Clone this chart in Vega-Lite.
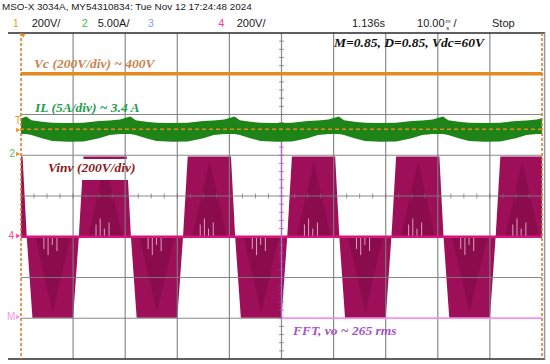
{
  "$schema": "https://vega.github.io/schema/vega-lite/v6.json",
  "width": 521,
  "height": 326,
  "autosize": {"type": "none"},
  "padding": {"left": 21, "top": 33, "right": 8, "bottom": 5},
  "background": "white",
  "config": {"view": {"stroke": null}},
  "datasets": {
    "pulses": [
      {"id": "pm1", "t": -8.9, "hi": -1, "lo": -1}, {"id": "pm1", "t": -8.0, "hi": 0.97, "lo": -1}, {"id": "pm1", "t": 0.3, "hi": 0.97, "lo": -1}, {"id": "pm1", "t": 1.1, "hi": -1, "lo": -1},
      {"id": "p0", "t": 11.1, "hi": -1, "lo": -1}, {"id": "p0", "t": 12.0, "hi": 0.97, "lo": -1}, {"id": "p0", "t": 20.3, "hi": 0.97, "lo": -1}, {"id": "p0", "t": 21.1, "hi": -1, "lo": -1},
      {"id": "p1", "t": 31.1, "hi": -1, "lo": -1}, {"id": "p1", "t": 32.0, "hi": 0.97, "lo": -1}, {"id": "p1", "t": 40.3, "hi": 0.97, "lo": -1}, {"id": "p1", "t": 41.1, "hi": -1, "lo": -1},
      {"id": "p2", "t": 51.1, "hi": -1, "lo": -1}, {"id": "p2", "t": 52.0, "hi": 0.97, "lo": -1}, {"id": "p2", "t": 60.3, "hi": 0.97, "lo": -1}, {"id": "p2", "t": 61.1, "hi": -1, "lo": -1},
      {"id": "p3", "t": 71.1, "hi": -1, "lo": -1}, {"id": "p3", "t": 72.0, "hi": 0.97, "lo": -1}, {"id": "p3", "t": 80.3, "hi": 0.97, "lo": -1}, {"id": "p3", "t": 81.1, "hi": -1, "lo": -1},
      {"id": "p4", "t": 91.1, "hi": -1, "lo": -1}, {"id": "p4", "t": 92.0, "hi": 0.97, "lo": -1}, {"id": "p4", "t": 100.3, "hi": 0.97, "lo": -1}, {"id": "p4", "t": 101.1, "hi": -1, "lo": -1},
      {"id": "n0", "t": 1.1, "hi": -1, "lo": -1}, {"id": "n0", "t": 2.2, "hi": -1, "lo": -2.99}, {"id": "n0", "t": 10.0, "hi": -1, "lo": -2.99}, {"id": "n0", "t": 11.1, "hi": -1, "lo": -1},
      {"id": "n1", "t": 21.1, "hi": -1, "lo": -1}, {"id": "n1", "t": 22.2, "hi": -1, "lo": -2.99}, {"id": "n1", "t": 30.0, "hi": -1, "lo": -2.99}, {"id": "n1", "t": 31.1, "hi": -1, "lo": -1},
      {"id": "n2", "t": 41.1, "hi": -1, "lo": -1}, {"id": "n2", "t": 42.2, "hi": -1, "lo": -2.99}, {"id": "n2", "t": 50.0, "hi": -1, "lo": -2.99}, {"id": "n2", "t": 51.1, "hi": -1, "lo": -1},
      {"id": "n3", "t": 61.1, "hi": -1, "lo": -1}, {"id": "n3", "t": 62.2, "hi": -1, "lo": -2.99}, {"id": "n3", "t": 70.0, "hi": -1, "lo": -2.99}, {"id": "n3", "t": 71.1, "hi": -1, "lo": -1},
      {"id": "n4", "t": 81.1, "hi": -1, "lo": -1}, {"id": "n4", "t": 82.2, "hi": -1, "lo": -2.99}, {"id": "n4", "t": 90.0, "hi": -1, "lo": -2.99}, {"id": "n4", "t": 91.1, "hi": -1, "lo": -1}
    ],
    "shade": [
      {"id": "p0", "t": 12.9, "hi": -1, "lo": -1}, {"id": "p0", "t": 16.2, "hi": 0.85, "lo": -1}, {"id": "p0", "t": 19.5, "hi": -1, "lo": -1},
      {"id": "p1", "t": 32.9, "hi": -1, "lo": -1}, {"id": "p1", "t": 36.2, "hi": 0.85, "lo": -1}, {"id": "p1", "t": 39.5, "hi": -1, "lo": -1},
      {"id": "p2", "t": 52.9, "hi": -1, "lo": -1}, {"id": "p2", "t": 56.2, "hi": 0.85, "lo": -1}, {"id": "p2", "t": 59.5, "hi": -1, "lo": -1},
      {"id": "p3", "t": 72.9, "hi": -1, "lo": -1}, {"id": "p3", "t": 76.2, "hi": 0.85, "lo": -1}, {"id": "p3", "t": 79.5, "hi": -1, "lo": -1},
      {"id": "p4", "t": 92.9, "hi": -1, "lo": -1}, {"id": "p4", "t": 96.2, "hi": 0.85, "lo": -1}, {"id": "p4", "t": 99.5, "hi": -1, "lo": -1},
      {"id": "n0", "t": 2.7, "hi": -1, "lo": -1}, {"id": "n0", "t": 6.1, "hi": -1, "lo": -2.85}, {"id": "n0", "t": 9.5, "hi": -1, "lo": -1},
      {"id": "n1", "t": 22.7, "hi": -1, "lo": -1}, {"id": "n1", "t": 26.1, "hi": -1, "lo": -2.85}, {"id": "n1", "t": 29.5, "hi": -1, "lo": -1},
      {"id": "n2", "t": 42.7, "hi": -1, "lo": -1}, {"id": "n2", "t": 46.1, "hi": -1, "lo": -2.85}, {"id": "n2", "t": 49.5, "hi": -1, "lo": -1},
      {"id": "n3", "t": 62.7, "hi": -1, "lo": -1}, {"id": "n3", "t": 66.1, "hi": -1, "lo": -2.85}, {"id": "n3", "t": 69.5, "hi": -1, "lo": -1},
      {"id": "n4", "t": 82.7, "hi": -1, "lo": -1}, {"id": "n4", "t": 86.1, "hi": -1, "lo": -2.85}, {"id": "n4", "t": 89.5, "hi": -1, "lo": -1}
    ],
    "spikes": [
      {"t": 14.4, "a": -1, "b": -0.7}, {"t": 15.2, "a": -1, "b": -0.55}, {"t": 16.0, "a": -1, "b": -0.8}, {"t": 16.9, "a": -1, "b": -0.65},
      {"t": 34.4, "a": -1, "b": -0.7}, {"t": 35.2, "a": -1, "b": -0.55}, {"t": 36.0, "a": -1, "b": -0.8}, {"t": 36.9, "a": -1, "b": -0.65},
      {"t": 54.4, "a": -1, "b": -0.7}, {"t": 55.2, "a": -1, "b": -0.55}, {"t": 56.0, "a": -1, "b": -0.8}, {"t": 56.9, "a": -1, "b": -0.65},
      {"t": 74.4, "a": -1, "b": -0.7}, {"t": 75.2, "a": -1, "b": -0.55}, {"t": 76.0, "a": -1, "b": -0.8}, {"t": 76.9, "a": -1, "b": -0.65},
      {"t": 94.4, "a": -1, "b": -0.7}, {"t": 95.2, "a": -1, "b": -0.55}, {"t": 96.0, "a": -1, "b": -0.8}, {"t": 96.9, "a": -1, "b": -0.65},
      {"t": 4.4, "a": -1, "b": -1.3}, {"t": 5.2, "a": -1, "b": -1.45}, {"t": 6.0, "a": -1, "b": -1.2}, {"t": 6.9, "a": -1, "b": -1.35},
      {"t": 24.4, "a": -1, "b": -1.3}, {"t": 25.2, "a": -1, "b": -1.45}, {"t": 26.0, "a": -1, "b": -1.2}, {"t": 26.9, "a": -1, "b": -1.35},
      {"t": 44.4, "a": -1, "b": -1.3}, {"t": 45.2, "a": -1, "b": -1.45}, {"t": 46.0, "a": -1, "b": -1.2}, {"t": 46.9, "a": -1, "b": -1.35},
      {"t": 64.4, "a": -1, "b": -1.3}, {"t": 65.2, "a": -1, "b": -1.45}, {"t": 66.0, "a": -1, "b": -1.2}, {"t": 66.9, "a": -1, "b": -1.35},
      {"t": 84.4, "a": -1, "b": -1.3}, {"t": 85.2, "a": -1, "b": -1.45}, {"t": 86.0, "a": -1, "b": -1.2}, {"t": 86.9, "a": -1, "b": -1.35}
    ],
    "il": [
      {"t": 0, "top": 1.9, "bot": 1.52},
      {"t": 1, "top": 1.95, "bot": 1.52}, {"t": 2, "top": 1.86, "bot": 1.5}, {"t": 4, "top": 1.82, "bot": 1.42}, {"t": 6, "top": 1.8, "bot": 1.35}, {"t": 9, "top": 1.79, "bot": 1.33}, {"t": 12, "top": 1.8, "bot": 1.34}, {"t": 15, "top": 1.84, "bot": 1.42}, {"t": 17, "top": 1.85, "bot": 1.5}, {"t": 19, "top": 1.88, "bot": 1.52}, {"t": 20.5, "top": 1.93, "bot": 1.52},
      {"t": 21, "top": 1.95, "bot": 1.52}, {"t": 22, "top": 1.86, "bot": 1.5}, {"t": 24, "top": 1.82, "bot": 1.42}, {"t": 26, "top": 1.8, "bot": 1.35}, {"t": 29, "top": 1.79, "bot": 1.33}, {"t": 32, "top": 1.8, "bot": 1.34}, {"t": 35, "top": 1.84, "bot": 1.42}, {"t": 37, "top": 1.85, "bot": 1.5}, {"t": 39, "top": 1.88, "bot": 1.52}, {"t": 40.5, "top": 1.93, "bot": 1.52},
      {"t": 41, "top": 1.95, "bot": 1.52}, {"t": 42, "top": 1.86, "bot": 1.5}, {"t": 44, "top": 1.82, "bot": 1.42}, {"t": 46, "top": 1.8, "bot": 1.35}, {"t": 49, "top": 1.79, "bot": 1.33}, {"t": 52, "top": 1.8, "bot": 1.34}, {"t": 55, "top": 1.84, "bot": 1.42}, {"t": 57, "top": 1.85, "bot": 1.5}, {"t": 59, "top": 1.88, "bot": 1.52}, {"t": 60.5, "top": 1.93, "bot": 1.52},
      {"t": 61, "top": 1.95, "bot": 1.52}, {"t": 62, "top": 1.86, "bot": 1.5}, {"t": 64, "top": 1.82, "bot": 1.42}, {"t": 66, "top": 1.8, "bot": 1.35}, {"t": 69, "top": 1.79, "bot": 1.33}, {"t": 72, "top": 1.8, "bot": 1.34}, {"t": 75, "top": 1.84, "bot": 1.42}, {"t": 77, "top": 1.85, "bot": 1.5}, {"t": 79, "top": 1.88, "bot": 1.52}, {"t": 80.5, "top": 1.93, "bot": 1.52},
      {"t": 81, "top": 1.95, "bot": 1.52}, {"t": 82, "top": 1.86, "bot": 1.5}, {"t": 84, "top": 1.82, "bot": 1.42}, {"t": 86, "top": 1.8, "bot": 1.35}, {"t": 89, "top": 1.79, "bot": 1.33}, {"t": 92, "top": 1.8, "bot": 1.34}, {"t": 95, "top": 1.84, "bot": 1.42}, {"t": 97, "top": 1.85, "bot": 1.5}, {"t": 99, "top": 1.88, "bot": 1.52}, {"t": 100, "top": 1.91, "bot": 1.52}
    ],
    "vgrid": [{"t": 10}, {"t": 20}, {"t": 30}, {"t": 40}, {"t": 50}, {"t": 60}, {"t": 70}, {"t": 80}, {"t": 90}],
    "hgrid": [{"v": -3}, {"v": -2}, {"v": -1}, {"v": 0}, {"v": 1}, {"v": 2}, {"v": 3}],
    "border": [{"v": 4, "a": -2.5, "b": 100.6}, {"v": -4, "a": -2.5, "b": 100.6}],
    "rframe": [{"t": 100.5, "a": 4, "b": -4}],
    "htick": [{"t": 0}, {"t": 2.5}, {"t": 5}, {"t": 7.5}, {"t": 10}, {"t": 12.5}, {"t": 15}, {"t": 17.5}, {"t": 20}, {"t": 22.5}, {"t": 25}, {"t": 27.5}, {"t": 30}, {"t": 32.5}, {"t": 35}, {"t": 37.5}, {"t": 40}, {"t": 42.5}, {"t": 45}, {"t": 47.5}, {"t": 50}, {"t": 52.5}, {"t": 55}, {"t": 57.5}, {"t": 60}, {"t": 62.5}, {"t": 65}, {"t": 67.5}, {"t": 70}, {"t": 72.5}, {"t": 75}, {"t": 77.5}, {"t": 80}, {"t": 82.5}, {"t": 85}, {"t": 87.5}, {"t": 90}, {"t": 92.5}, {"t": 95}, {"t": 97.5}, {"t": 100}],
    "vtick": [{"v": -3.8}, {"v": -3.6}, {"v": -3.4}, {"v": -3.2}, {"v": -3}, {"v": -2.8}, {"v": -2.6}, {"v": -2.4}, {"v": -2.2}, {"v": -2}, {"v": -1.8}, {"v": -1.6}, {"v": -1.4}, {"v": -1.2}, {"v": -1}, {"v": -0.8}, {"v": -0.6}, {"v": -0.4}, {"v": -0.2}, {"v": 0}, {"v": 0.2}, {"v": 0.4}, {"v": 0.6}, {"v": 0.8}, {"v": 1}, {"v": 1.2}, {"v": 1.4}, {"v": 1.6}, {"v": 1.8}, {"v": 2}, {"v": 2.2}, {"v": 2.4}, {"v": 2.6}, {"v": 2.8}, {"v": 3}, {"v": 3.2}, {"v": 3.4}, {"v": 3.6}, {"v": 3.8}],
    "box": [{"a": 4.4, "b": 23.0, "lo": 0.39, "hi": 0.91}],
    "zero": [{"v": -1}],
    "vc": [{"v": 3.0}],
    "trig": [{"v": 1.64}],
    "cursor": [{"t": 0}, {"t": 100}],
    "ffth": [{"v": -3, "a": 50, "b": 100}],
    "fftv": [{"t": 50, "a": 1.45, "b": -3}],
    "notes": [
      {"s": "Vc (200V/div) ~ 400V", "t": 2.5, "v": 3.24, "c": "vc"},
      {"s": "IL (5A/div) ~ 3.4 A", "t": 2.7, "v": 2.16, "c": "il"},
      {"s": "Vinv (200V/div)", "t": 5.2, "v": 0.69, "c": "vinv"},
      {"s": "M=0.85, D=0.85, Vdc=60V", "t": 60.1, "v": 3.755, "c": "m"},
      {"s": "FFT, vo ~ 265 rms", "t": 52.2, "v": -3.31, "c": "fft"}
    ],
    "head1": [{"s": "MSO-X 3034A, MY54310834: Tue Nov 12 17:24:48 2024", "t": -3.65, "v": 4.63, "c": "hdr"}],
    "head2": [
      {"s": "1", "t": -1.59, "v": 4.213, "c": "c1"},
      {"s": "200V/", "t": 2.05, "v": 4.213, "c": "hdr"},
      {"s": "2", "t": 11.65, "v": 4.213, "c": "c2"},
      {"s": "5.00A/", "t": 14.72, "v": 4.213, "c": "hdr"},
      {"s": "3", "t": 24.32, "v": 4.213, "c": "c3"},
      {"s": "4", "t": 37.87, "v": 4.213, "c": "c4"},
      {"s": "200V/", "t": 41.4, "v": 4.213, "c": "hdr"},
      {"s": "1.136s", "t": 63.53, "v": 4.213, "c": "hdr"},
      {"s": "10.00", "t": 76.01, "v": 4.213, "c": "hdr"},
      {"s": "/", "t": 83.0, "v": 4.213, "c": "hdr"},
      {"s": "Stop", "t": 90.4, "v": 4.213, "c": "hdr"}
    ],
    "tiny": [{"s": "m", "t": 81.5, "v": 4.3, "c": "hdr"}, {"s": "s", "t": 81.6, "v": 4.13, "c": "hdr"}],
    "marks": [
      {"s": "T", "t": -1.15, "v": 1.84, "c": "mk_o"},
      {"s": "2", "t": -2.2, "v": 1.03, "c": "mk_g"},
      {"s": "4", "t": -2.4, "v": -0.98, "c": "mk_p"},
      {"s": "M", "t": -2.7, "v": -2.97, "c": "mk_m"}
    ],
    "arrows": [
      {"t": -0.55, "v": 1.62, "c": "mk_o", "sh": "r"},
      {"t": -0.55, "v": 1.03, "c": "mk_o", "sh": "r"},
      {"t": -0.55, "v": -0.98, "c": "mk_p", "sh": "r"},
      {"t": -0.55, "v": -2.97, "c": "mk_m", "sh": "r"},
      {"t": 0.4, "v": 3.93, "c": "mk_o", "sh": "d"}
    ]
  },
  "layer": [
    {
      "data": {"name": "pulses"},
      "mark": {"type": "area", "color": "#9e0f59", "clip": true, "interpolate": "linear"},
      "encoding": {
        "x": {"field": "t", "type": "quantitative", "scale": {"domain": [0, 100], "nice": false, "zero": false}, "axis": null},
        "y": {"field": "hi", "type": "quantitative", "scale": {"domain": [-4, 4], "nice": false, "zero": false}, "axis": null},
        "y2": {"field": "lo"},
        "detail": {"field": "id", "type": "nominal"}
      }
    },
    {
      "data": {"name": "shade"},
      "mark": {"type": "area", "color": "#5c0530", "opacity": 0.3, "clip": true, "interpolate": "linear"},
      "encoding": {
        "x": {"field": "t", "type": "quantitative", "scale": {"domain": [0, 100], "nice": false, "zero": false}, "axis": null},
        "y": {"field": "hi", "type": "quantitative", "scale": {"domain": [-4, 4], "nice": false, "zero": false}, "axis": null},
        "y2": {"field": "lo"},
        "detail": {"field": "id", "type": "nominal"}
      }
    },
    {
      "data": {"name": "spikes"},
      "mark": {"type": "rule", "color": "#efb8d2", "strokeWidth": 1, "opacity": 0.85},
      "encoding": {
        "x": {"field": "t", "type": "quantitative", "scale": {"domain": [0, 100], "nice": false, "zero": false}, "axis": null},
        "y": {"field": "a", "type": "quantitative", "scale": {"domain": [-4, 4], "nice": false, "zero": false}, "axis": null},
        "y2": {"field": "b"}
      }
    },
    {
      "data": {"name": "box"},
      "mark": {"type": "rect", "color": "white"},
      "encoding": {
        "x": {"field": "a", "type": "quantitative", "scale": {"domain": [0, 100], "nice": false, "zero": false}, "axis": null},
        "x2": {"field": "b"},
        "y": {"field": "hi", "type": "quantitative", "scale": {"domain": [-4, 4], "nice": false, "zero": false}, "axis": null},
        "y2": {"field": "lo"}
      }
    },
    {
      "data": {"name": "vgrid"},
      "mark": {"type": "rule", "color": "#7d7d7d", "strokeWidth": 1.2, "opacity": 0.9},
      "encoding": {
        "x": {"field": "t", "type": "quantitative", "scale": {"domain": [0, 100], "nice": false, "zero": false}, "axis": null}
      }
    },
    {
      "data": {"name": "hgrid"},
      "mark": {"type": "rule", "color": "#7d7d7d", "strokeWidth": 1.2, "opacity": 0.9},
      "encoding": {
        "y": {"field": "v", "type": "quantitative", "scale": {"domain": [-4, 4], "nice": false, "zero": false}, "axis": null}
      }
    },
    {
      "data": {"name": "htick"},
      "mark": {"type": "tick", "orient": "vertical", "size": 5, "thickness": 1, "color": "#707070"},
      "encoding": {
        "x": {"field": "t", "type": "quantitative", "scale": {"domain": [0, 100], "nice": false, "zero": false}, "axis": null},
        "y": {"datum": 0, "type": "quantitative", "scale": {"domain": [-4, 4], "nice": false, "zero": false}, "axis": null}
      }
    },
    {
      "data": {"name": "vtick"},
      "mark": {"type": "tick", "orient": "horizontal", "size": 5, "thickness": 1, "color": "#707070"},
      "encoding": {
        "x": {"datum": 50, "type": "quantitative", "scale": {"domain": [0, 100], "nice": false, "zero": false}, "axis": null},
        "y": {"field": "v", "type": "quantitative", "scale": {"domain": [-4, 4], "nice": false, "zero": false}, "axis": null}
      }
    },
    {
      "data": {"name": "zero"},
      "mark": {"type": "rule", "color": "#d8177c", "strokeWidth": 2.5},
      "encoding": {
        "y": {"field": "v", "type": "quantitative", "scale": {"domain": [-4, 4], "nice": false, "zero": false}, "axis": null}
      }
    },
    {
      "data": {"name": "ffth"},
      "mark": {"type": "rule", "color": "#ff8cf6", "strokeWidth": 1.5},
      "encoding": {
        "x": {"field": "a", "type": "quantitative", "scale": {"domain": [0, 100], "nice": false, "zero": false}, "axis": null},
        "x2": {"field": "b"},
        "y": {"field": "v", "type": "quantitative", "scale": {"domain": [-4, 4], "nice": false, "zero": false}, "axis": null}
      }
    },
    {
      "data": {"name": "fftv"},
      "mark": {"type": "rule", "color": "#b066c8", "strokeWidth": 1.3},
      "encoding": {
        "x": {"field": "t", "type": "quantitative", "scale": {"domain": [0, 100], "nice": false, "zero": false}, "axis": null},
        "y": {"field": "a", "type": "quantitative", "scale": {"domain": [-4, 4], "nice": false, "zero": false}, "axis": null},
        "y2": {"field": "b"}
      }
    },
    {
      "data": {"name": "il"},
      "mark": {"type": "area", "color": "#1e8418", "interpolate": "linear"},
      "encoding": {
        "x": {"field": "t", "type": "quantitative", "scale": {"domain": [0, 100], "nice": false, "zero": false}, "axis": null},
        "y": {"field": "top", "type": "quantitative", "scale": {"domain": [-4, 4], "nice": false, "zero": false}, "axis": null},
        "y2": {"field": "bot"}
      }
    },
    {
      "data": {"name": "trig"},
      "mark": {"type": "rule", "color": "#e88a1a", "strokeWidth": 1.5, "strokeDash": [4, 3]},
      "encoding": {
        "y": {"field": "v", "type": "quantitative", "scale": {"domain": [-4, 4], "nice": false, "zero": false}, "axis": null}
      }
    },
    {
      "data": {"name": "vc"},
      "mark": {"type": "rule", "color": "#e48a1e", "strokeWidth": 3.5},
      "encoding": {
        "y": {"field": "v", "type": "quantitative", "scale": {"domain": [-4, 4], "nice": false, "zero": false}, "axis": null}
      }
    },
    {
      "data": {"name": "border"},
      "mark": {"type": "rule", "color": "#2a2a2a", "strokeWidth": 1.5},
      "encoding": {
        "x": {"field": "a", "type": "quantitative", "scale": {"domain": [0, 100], "nice": false, "zero": false}, "axis": null},
        "x2": {"field": "b"},
        "y": {"field": "v", "type": "quantitative", "scale": {"domain": [-4, 4], "nice": false, "zero": false}, "axis": null}
      }
    },
    {
      "data": {"name": "rframe"},
      "mark": {"type": "rule", "color": "#9a9a9a", "strokeWidth": 1.5},
      "encoding": {
        "x": {"field": "t", "type": "quantitative", "scale": {"domain": [0, 100], "nice": false, "zero": false}, "axis": null},
        "y": {"field": "a", "type": "quantitative", "scale": {"domain": [-4, 4], "nice": false, "zero": false}, "axis": null},
        "y2": {"field": "b"}
      }
    },
    {
      "data": {"name": "cursor"},
      "mark": {"type": "rule", "color": "#d67a22", "strokeWidth": 1.5, "strokeDash": [3, 2]},
      "encoding": {
        "x": {"field": "t", "type": "quantitative", "scale": {"domain": [0, 100], "nice": false, "zero": false}, "axis": null}
      }
    },
    {
      "data": {"name": "notes"},
      "mark": {"type": "text", "align": "left", "baseline": "middle", "font": "Liberation Serif", "fontSize": 13.5, "fontStyle": "italic", "fontWeight": "bold"},
      "encoding": {
        "x": {"field": "t", "type": "quantitative", "scale": {"domain": [0, 100], "nice": false, "zero": false}, "axis": null},
        "y": {"field": "v", "type": "quantitative", "scale": {"domain": [-4, 4], "nice": false, "zero": false}, "axis": null},
        "text": {"field": "s"},
        "color": {"field": "c", "type": "nominal", "legend": null, "scale": {"domain": ["hdr", "c1", "c2", "c3", "c4", "vc", "il", "vinv", "m", "fft", "mk_o", "mk_g", "mk_p", "mk_m"], "range": ["#1a1a1a", "#f0a030", "#3cbf3c", "#8aa0f0", "#ff3c9c", "#c8844c", "#1e9e4c", "#8b1a22", "#111111", "#a653c4", "#f09020", "#5cc040", "#ff40a0", "#ff90f0"]}}
      }
    },
    {
      "data": {"name": "head1"},
      "mark": {"type": "text", "align": "left", "baseline": "middle", "font": "Liberation Sans", "fontSize": 9.9},
      "encoding": {
        "x": {"field": "t", "type": "quantitative", "scale": {"domain": [0, 100], "nice": false, "zero": false}, "axis": null},
        "y": {"field": "v", "type": "quantitative", "scale": {"domain": [-4, 4], "nice": false, "zero": false}, "axis": null},
        "text": {"field": "s"},
        "color": {"field": "c", "type": "nominal", "legend": null, "scale": {"domain": ["hdr", "c1", "c2", "c3", "c4", "vc", "il", "vinv", "m", "fft", "mk_o", "mk_g", "mk_p", "mk_m"], "range": ["#1a1a1a", "#f0a030", "#3cbf3c", "#8aa0f0", "#ff3c9c", "#c8844c", "#1e9e4c", "#8b1a22", "#111111", "#a653c4", "#f09020", "#5cc040", "#ff40a0", "#ff90f0"]}}
      }
    },
    {
      "data": {"name": "head2"},
      "mark": {"type": "text", "align": "left", "baseline": "middle", "font": "Liberation Sans", "fontSize": 11},
      "encoding": {
        "x": {"field": "t", "type": "quantitative", "scale": {"domain": [0, 100], "nice": false, "zero": false}, "axis": null},
        "y": {"field": "v", "type": "quantitative", "scale": {"domain": [-4, 4], "nice": false, "zero": false}, "axis": null},
        "text": {"field": "s"},
        "color": {"field": "c", "type": "nominal", "legend": null, "scale": {"domain": ["hdr", "c1", "c2", "c3", "c4", "vc", "il", "vinv", "m", "fft", "mk_o", "mk_g", "mk_p", "mk_m"], "range": ["#1a1a1a", "#f0a030", "#3cbf3c", "#8aa0f0", "#ff3c9c", "#c8844c", "#1e9e4c", "#8b1a22", "#111111", "#a653c4", "#f09020", "#5cc040", "#ff40a0", "#ff90f0"]}}
      }
    },
    {
      "data": {"name": "tiny"},
      "mark": {"type": "text", "align": "left", "baseline": "middle", "font": "Liberation Sans", "fontSize": 6},
      "encoding": {
        "x": {"field": "t", "type": "quantitative", "scale": {"domain": [0, 100], "nice": false, "zero": false}, "axis": null},
        "y": {"field": "v", "type": "quantitative", "scale": {"domain": [-4, 4], "nice": false, "zero": false}, "axis": null},
        "text": {"field": "s"},
        "color": {"field": "c", "type": "nominal", "legend": null, "scale": {"domain": ["hdr", "c1", "c2", "c3", "c4", "vc", "il", "vinv", "m", "fft", "mk_o", "mk_g", "mk_p", "mk_m"], "range": ["#1a1a1a", "#f0a030", "#3cbf3c", "#8aa0f0", "#ff3c9c", "#c8844c", "#1e9e4c", "#8b1a22", "#111111", "#a653c4", "#f09020", "#5cc040", "#ff40a0", "#ff90f0"]}}
      }
    },
    {
      "data": {"name": "marks"},
      "mark": {"type": "text", "align": "left", "baseline": "middle", "font": "Liberation Sans", "fontSize": 10},
      "encoding": {
        "x": {"field": "t", "type": "quantitative", "scale": {"domain": [0, 100], "nice": false, "zero": false}, "axis": null},
        "y": {"field": "v", "type": "quantitative", "scale": {"domain": [-4, 4], "nice": false, "zero": false}, "axis": null},
        "text": {"field": "s"},
        "color": {"field": "c", "type": "nominal", "legend": null, "scale": {"domain": ["hdr", "c1", "c2", "c3", "c4", "vc", "il", "vinv", "m", "fft", "mk_o", "mk_g", "mk_p", "mk_m"], "range": ["#1a1a1a", "#f0a030", "#3cbf3c", "#8aa0f0", "#ff3c9c", "#c8844c", "#1e9e4c", "#8b1a22", "#111111", "#a653c4", "#f09020", "#5cc040", "#ff40a0", "#ff90f0"]}}
      }
    },
    {
      "data": {"name": "arrows"},
      "mark": {"type": "point", "filled": true, "size": 22, "opacity": 1},
      "encoding": {
        "x": {"field": "t", "type": "quantitative", "scale": {"domain": [0, 100], "nice": false, "zero": false}, "axis": null},
        "y": {"field": "v", "type": "quantitative", "scale": {"domain": [-4, 4], "nice": false, "zero": false}, "axis": null},
        "shape": {"field": "sh", "type": "nominal", "legend": null, "scale": {"domain": ["r", "d"], "range": ["triangle-right", "triangle-down"]}},
        "color": {"field": "c", "type": "nominal", "legend": null, "scale": {"domain": ["hdr", "c1", "c2", "c3", "c4", "vc", "il", "vinv", "m", "fft", "mk_o", "mk_g", "mk_p", "mk_m"], "range": ["#1a1a1a", "#f0a030", "#3cbf3c", "#8aa0f0", "#ff3c9c", "#c8844c", "#1e9e4c", "#8b1a22", "#111111", "#a653c4", "#f09020", "#5cc040", "#ff40a0", "#ff90f0"]}}
      }
    }
  ]
}
